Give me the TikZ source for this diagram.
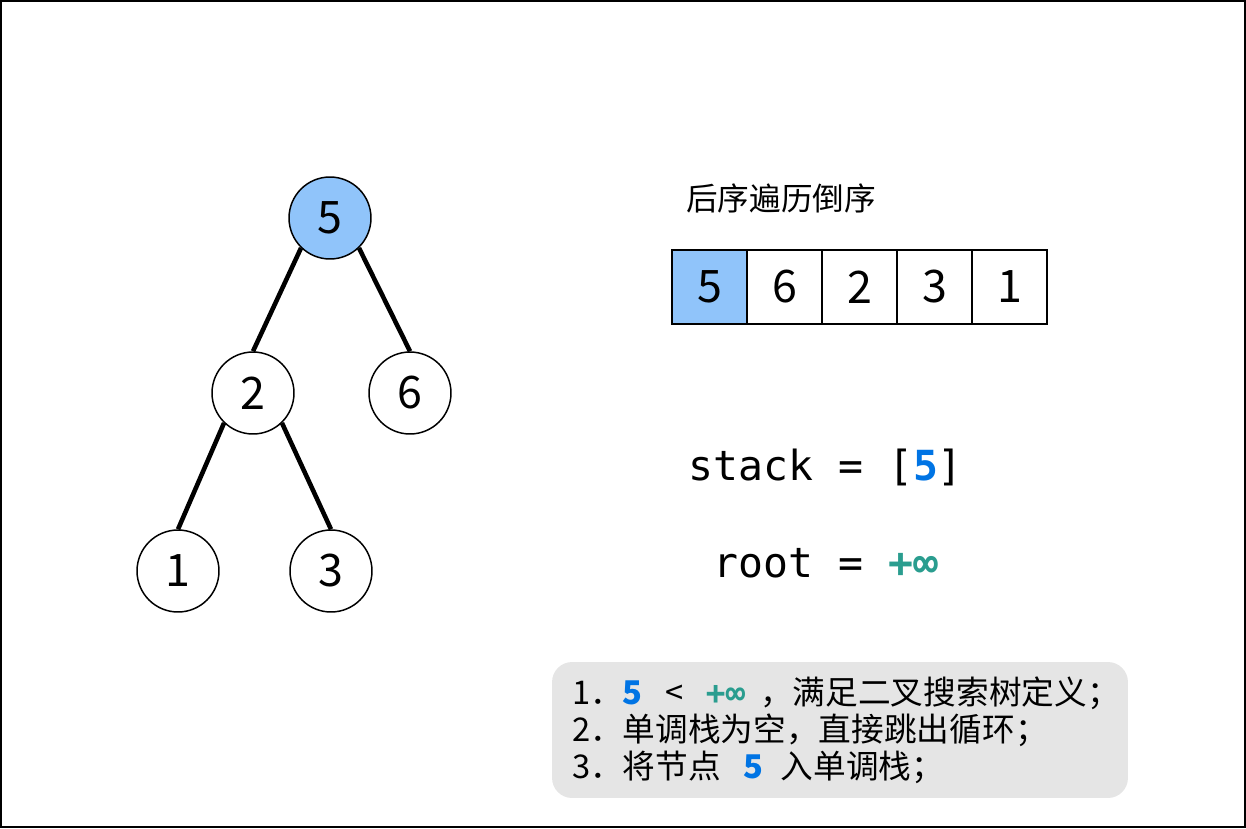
\documentclass[tikz,border=0pt]{standalone}
\usepackage{fontspec}
\setmainfont{Noto Sans CJK SC}
\setmonofont{DejaVu Sans Mono}
\usepackage{tikz}
\usetikzlibrary{positioning, calc}
\definecolor{nodeblue}{RGB}{144,196,250}
\definecolor{keyblue}{RGB}{0,116,228}
\definecolor{infgreen}{RGB}{42,157,143}
\definecolor{notegray}{RGB}{229,229,229}
\newcommand{\keyval}[1]{\textcolor{keyblue}{\bfseries #1}}
\newcommand{\infval}{\textcolor{infgreen}{\ttfamily\bfseries +∞}}
\tikzset{
    treenode/.style={circle, draw=black, line width=0.85pt, fill=white, minimum size=1.64cm, inner sep=0pt, font=\fontsize{25.5}{30}\selectfont},
    current/.style={fill=nodeblue},
    cell/.style={rectangle, draw=black, line width=1.1pt, fill=white, minimum width=1.5cm, minimum height=1.48cm, inner sep=0pt, font=\fontsize{25.5}{30}\selectfont},
    edge/.style={line width=2.6pt},
    codetext/.style={inner sep=0pt, font=\ttfamily\fontsize{23.6}{27}\selectfont},
    notebox/.style={rectangle, rounded corners=0.4cm, fill=notegray, minimum width=11.52cm, minimum height=2.72cm},
    notetext/.style={inner sep=0pt, align=left, font=\fontsize{18.6}{21}\selectfont}
}
\begin{document}
\begin{tikzpicture}[x=0.02cm, y=-0.02cm]
        \useasboundingbox (0,0) rectangle (1246,828);
        \draw[line width=1.1pt] (1,1) rectangle (1245,827);

        % Tree
        \node (n5) [treenode, current] at (330,218) {5};
        \node (n2) [treenode] at (253,393) {2};
        \node (n6) [treenode] at (410,393) {6};
        \node (n1) [treenode] at (178,571) {1};
        \node (n3) [treenode] at (331,571) {3};

        \draw[edge] (n5.-134) -- (n2.north);
        \draw[edge] (n5.-46) -- (n6.north);
        \draw[edge] (n2.-134) -- (n1.north);
        \draw[edge] (n2.-46) -- (n3.north);

        % Postorder array
        \node (title) [inner sep=0pt, anchor=base west, font=\fontsize{18}{22}\selectfont] at (686,210) {后序遍历倒序};
        \node (c1) [cell, current] at (709.5,287) {5};
        \node (c2) [cell] at (784.5,287) {6};
        \node (c3) [cell] at (859.5,287) {2};
        \node (c4) [cell] at (934.5,287) {3};
        \node (c5) [cell] at (1009.5,287) {1};

        % Stack and root
        \node (stack) [codetext, anchor=base west] at (688,480) {stack = [\keyval{5}]};
        \node (root) [codetext, anchor=base west] at (713,577) {root = \infval};

        % Notes
        \node (notes) [notebox] at (840,730) {};
        \node (steps) [notetext, right=0.4cm of notes.west] {1．\keyval{5}\hspace{0.45cm}<\hspace{0.45cm}\infval\hspace{0.3cm}，满足二叉搜索树定义；\\
2．单调栈为空，直接跳出循环；\\
3．将节点\hspace{0.45cm}\keyval{5}\hspace{0.35cm}入单调栈；};
    \end{tikzpicture}
\end{document}
